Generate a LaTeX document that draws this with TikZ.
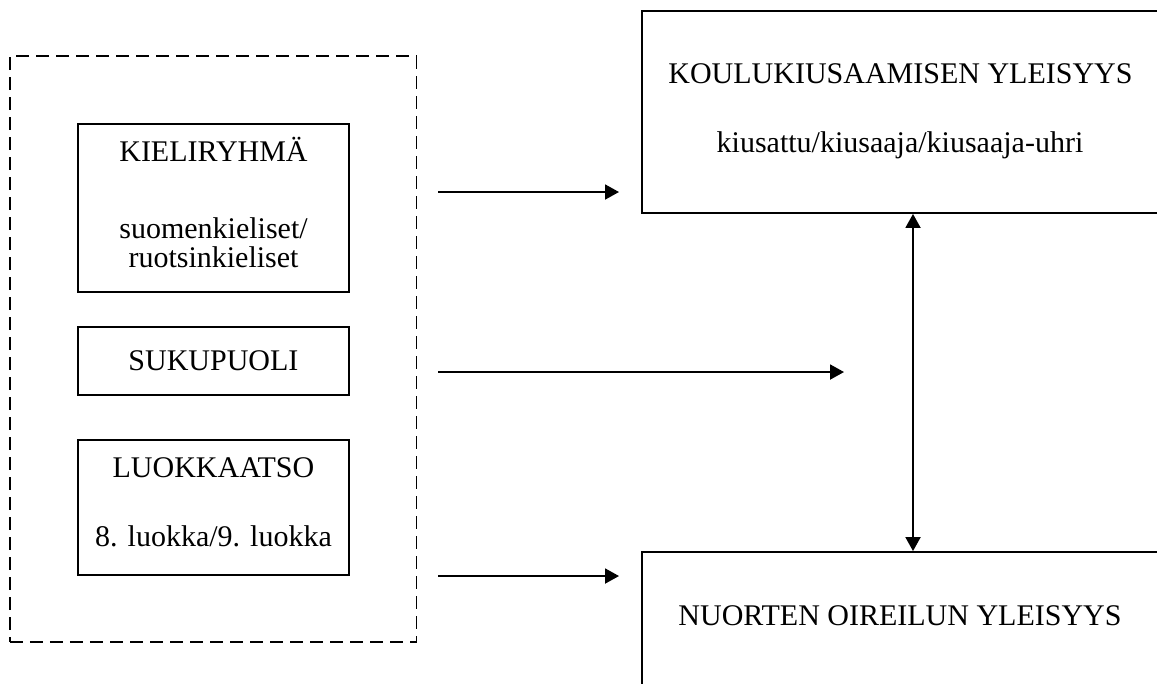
\documentclass[tikz,border=0pt]{standalone}
\usepackage{fontspec}
\setmainfont{Liberation Serif}
\usetikzlibrary{arrows.meta, positioning, calc}

\begin{document}
\begin{tikzpicture}[
    x=0.4pt, y=-0.4pt,
    every node/.style={font=\fontsize{12}{10.8}\selectfont},
    box/.style={rectangle, draw, line width=0.75pt, inner sep=0pt},
    groupbox/.style={rectangle, draw, line width=0.75pt, dash pattern=on 5.2pt off 2.8pt, inner sep=0pt},
    boxtext/.style={anchor=base, inner sep=0pt},
    arrow/.style={-{Triangle[length=5.6pt, width=6pt]}, line width=0.75pt},
    dblarrow/.style={{Triangle[length=5.6pt, width=6pt]}-{Triangle[length=5.6pt, width=6pt]}, line width=0.75pt}
]

% Page frame
\useasboundingbox (0,0) rectangle (1157,683);
\clip (0,0) rectangle (1157,683);

% Background variables
\node[groupbox, minimum width=162.6pt, minimum height=234.4pt] (group) at (213.25,349) {};

\node[box, minimum width=108.4pt, minimum height=67.2pt] (kieli) at (213.5,208) {};
\node[boxtext] (kielititle) at (213.5,161.7) {KIELIRYHMÄ};
\node[boxtext] (kielifi) at (213.5,238) {suomenkieliset/};
\node[boxtext] (kielisv) at (213.5,267.5) {ruotsinkieliset};

\node[box, minimum width=108.4pt, minimum height=27.2pt] (suku) at (213.5,361) {};
\node[boxtext] (sukutitle) at (213.5,370) {SUKUPUOLI};

\node[box, minimum width=108.4pt, minimum height=54pt] (luokka) at (213.5,507.5) {};
\node[boxtext] (luokkatitle) at (213.5,477) {LUOKKAATSO};
\node[boxtext] (luokkasub) at (213.5,546.7) {8. luokka/9. luokka};

% Outcomes
\node[box, minimum width=216.8pt, minimum height=80.8pt] (kiusaaminen) at (913,112) {};
\node[boxtext] (kiusatitle) at (900.5,83.3) {KOULUKIUSAAMISEN YLEISYYS};
\node[boxtext] (kiusasub) at (900,152) {kiusattu/kiusaaja/kiusaaja-uhri};

\node[box, minimum width=216.8pt, minimum height=75.2pt] (oireilu) at (913,646) {};
\node[boxtext] (oireilutitle) at (900,625) {NUORTEN OIREILUN YLEISYYS};

% Arrows
\coordinate (from1) at (438,192);
\coordinate (to1) at (619,192);
\coordinate (from2) at (438,372);
\coordinate (to2) at (844,372);
\coordinate (from3) at (438,576);
\coordinate (to3) at (619,576);

\draw[arrow] (from1) -- (to1);
\draw[arrow] (from2) -- (to2);
\draw[arrow] (from3) -- (to3);
\draw[dblarrow] (kiusaaminen.south) -- (oireilu.north);

\end{tikzpicture}
\end{document}
